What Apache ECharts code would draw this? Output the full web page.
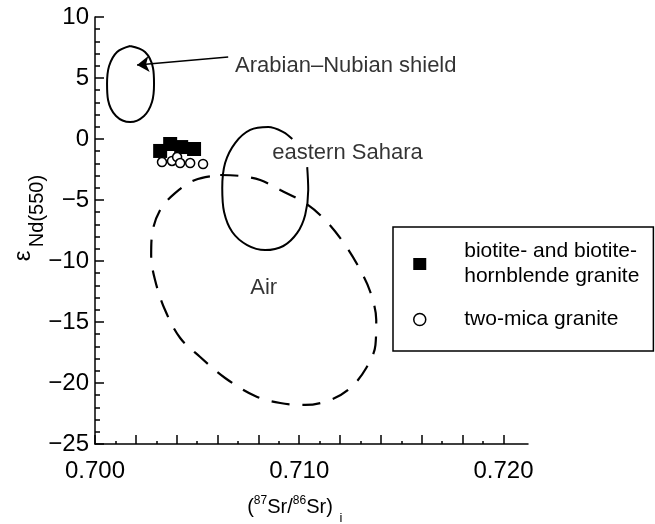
<!DOCTYPE html>
<html>
<head>
<meta charset="utf-8">
<script src="https://cdn.jsdelivr.net/npm/echarts@6/dist/echarts.min.js"></script>
<style>
html,body{margin:0;padding:0;background:#fff;}
#chart{width:655px;height:524px;}
</style>
</head>
<body>
<div id="chart"></div>
<script>
// ---- data ----
const seriesNames = ['biotite- and biotite-\nhornblende granite', 'two-mica granite'];
// filled squares: biotite- and biotite-hornblende granite
const squareX = [0.70319, 0.70368, 0.70422, 0.70485];
const squareY = [-0.98, -0.41, -0.66, -0.82];
// open circles: two-mica granite
const circleX = [0.70328, 0.70377, 0.70402, 0.70417, 0.70466, 0.70529];
const circleY = [-1.89, -1.80, -1.48, -1.97, -1.97, -2.05];

// field outlines (traced)
const arabianX = [0.70172, 0.70245, 0.70284, 0.70289, 0.70279, 0.70240, 0.70172, 0.70103, 0.70064, 0.70059, 0.70069, 0.70108, 0.70172];
const arabianY = [7.62, 7.13, 5.82, 4.51, 3.03, 1.89, 1.39, 1.89, 3.20, 4.51, 5.98, 7.13, 7.62];
const saharaX = [0.71039, 0.71044, 0.71029, 0.70990, 0.70922, 0.70833, 0.70745, 0.70672, 0.70632, 0.70623, 0.70637, 0.70686, 0.70760, 0.70848, 0.70922, 0.70966];
const saharaY = [-2.30, -4.18, -6.23, -7.70, -8.77, -9.10, -8.69, -7.62, -5.98, -4.02, -1.97, -0.33, 0.74, 0.98, 0.57, 0.00];
const airX = [0.70613, 0.70711, 0.70809, 0.70907, 0.71029, 0.71127, 0.71225, 0.71299, 0.71348, 0.71377, 0.71373, 0.71328, 0.71250, 0.71152, 0.71029, 0.70907, 0.70784, 0.70637, 0.70515, 0.70417, 0.70343, 0.70294, 0.70275, 0.70279, 0.70319, 0.70392, 0.70490, 0.70613];
const airY = [-2.95, -3.03, -3.36, -4.18, -5.25, -6.64, -8.69, -10.74, -12.54, -14.84, -16.89, -18.77, -20.41, -21.39, -21.80, -21.64, -21.07, -19.59, -17.87, -16.31, -14.02, -11.56, -9.51, -7.87, -5.82, -4.43, -3.36, -2.95];

// arrow from label to Arabian–Nubian field
const arrowFrom = [0.70652, 6.72];
const arrowTo = [0.70206, 6.07];

// field labels
const fieldNames = ['Arabian–Nubian shield', 'eastern Sahara', 'Air'];
const fieldX = [0.70686, 0.70868, 0.70760];
const fieldY = [5.98, -1.15, -12.2];

// axes
const xMin = 0.700, xMax = 0.7212;
const yMin = -25, yMax = 10, yStep = 5;
const xMajorTicks = [0.700, 0.702, 0.704, 0.706, 0.708, 0.710, 0.712, 0.714, 0.716, 0.718, 0.720];
const xMinorTicks = [0.701, 0.703, 0.705, 0.707, 0.709, 0.711, 0.713, 0.715, 0.717, 0.719];
const xTickLabels = [0.700, 0.710, 0.720];

// ---- chart ----
const FONT = '"Liberation Sans", Arial, Helvetica, sans-serif';
const zip = (xs, ys) => xs.map((x, i) => [x, ys[i]]);
const chart = echarts.init(document.getElementById('chart'), null, {renderer: 'canvas'});

const outline = (name, xs, ys, dashed, extra) => Object.assign({
  name: name,
  type: 'line',
  data: zip(xs, ys),
  smooth: 0.35,
  showSymbol: false,
  symbol: 'none',
  silent: true,
  z: 2,
  lineStyle: {color: '#000', width: 2, type: dashed ? [18, 13] : 'solid'}
}, extra || {});

chart.setOption({
  animation: false,
  backgroundColor: '#fff',
  textStyle: {fontFamily: FONT},
  grid: {left: 95, right: 127, top: 17, bottom: 80, containLabel: false},
  xAxis: [{
    type: 'value', min: xMin, max: xMax,
    axisLine: {show: true, onZero: false, lineStyle: {color: '#000', width: 1.5}},
    axisTick: {show: true, inside: true, length: 9, customValues: xMajorTicks, lineStyle: {color: '#000', width: 1.5}},
    axisLabel: {show: true, customValues: xTickLabels, margin: 15, color: '#000', fontSize: 24, fontFamily: FONT,
      formatter: v => v.toFixed(3)},
    splitLine: {show: false}
  }, {
    type: 'value', min: xMin, max: xMax, position: 'bottom',
    axisLine: {show: false, onZero: false},
    axisTick: {show: true, inside: true, length: 3, customValues: xMinorTicks, lineStyle: {color: '#000', width: 1.5}},
    axisLabel: {show: false},
    splitLine: {show: false}
  }],
  yAxis: {
    type: 'value', min: yMin, max: yMax, interval: yStep,
    axisLine: {show: true, onZero: false, lineStyle: {color: '#000', width: 1.5}},
    axisTick: {show: true, inside: true, length: 9, lineStyle: {color: '#000', width: 1.5}},
    minorTick: {show: true, splitNumber: 5, length: 5, lineStyle: {color: '#000', width: 1.5}},
    axisLabel: {color: '#000', fontSize: 24, margin: 6, fontFamily: FONT,
      formatter: v => String(v).replace('-', '\u2212')},
    splitLine: {show: false},
    minorSplitLine: {show: false}
  },
  legend: {
    orient: 'vertical',
    left: 393, top: 227,
    padding: [12, 14, 19, 20],
    borderColor: '#000', borderWidth: 1.5,
    backgroundColor: '#fff',
    itemWidth: 13, itemHeight: 12, itemGap: 18,
    selectedMode: false,
    textStyle: {color: '#000', fontSize: 21, lineHeight: 25, fontFamily: FONT, padding: [0, 0, 0, 33]},
    data: [
      {name: seriesNames[0], icon: 'rect', itemStyle: {color: '#000', borderWidth: 0}},
      {name: seriesNames[1], icon: 'circle', itemStyle: {color: '#fff', borderColor: '#000', borderWidth: 1.5}}
    ]
  },
  graphic: [
    {type: 'text', x: 23, y: 256, rotation: Math.PI / 2,
      style: {text: '\u03b5', fontSize: 24, fontFamily: FONT, fill: '#000', align: 'center', verticalAlign: 'middle'}},
    {type: 'text', x: 37, y: 211, rotation: Math.PI / 2,
      style: {text: 'Nd(550)', fontSize: 20, fontFamily: FONT, fill: '#000', align: 'center', verticalAlign: 'middle'}},
    {type: 'text', x: 290, y: 507,
      style: {text: '({s|87}Sr/{s|86}Sr)', fontSize: 20, lineHeight: 24, fontFamily: FONT, fill: '#000', align: 'center', verticalAlign: 'middle',
        rich: {s: {fontSize: 12, fontFamily: FONT, fill: '#000', verticalAlign: 'top'}}}},
    {type: 'text', x: 341, y: 518,
      style: {text: 'i', fontSize: 13, fontFamily: FONT, fill: '#000', align: 'center', verticalAlign: 'middle'}}
  ],
  series: [
    outline('Arabian–Nubian field', arabianX, arabianY, false, {
      markLine: {
        silent: true, animation: false,
        symbol: ['none', 'arrow'], symbolSize: 12,
        label: {show: false},
        itemStyle: {color: '#000'},
        lineStyle: {color: '#000', width: 1.5, type: 'solid'},
        emphasis: {disabled: true},
        data: [[{coord: arrowFrom}, {coord: arrowTo}]]
      }
    }),
    outline('eastern Sahara field', saharaX, saharaY, false),
    outline('Air field', airX, airY, true, {lineStyle: {color: '#000', width: 2.2, type: [18, 13]}}),
    {
      name: 'labels', type: 'scatter', silent: true, symbolSize: 0,
      data: fieldNames.map((n, i) => ({name: n, value: [fieldX[i], fieldY[i]]})),
      label: {show: true, position: 'right', distance: 0, formatter: '{b}', color: '#000', fontSize: 22, fontFamily: FONT},
      z: 3
    },
    {
      name: seriesNames[0], type: 'scatter', data: zip(squareX, squareY),
      symbol: 'rect', symbolSize: 14, itemStyle: {color: '#000', opacity: 1}, z: 4
    },
    {
      name: seriesNames[1], type: 'scatter', data: zip(circleX, circleY),
      symbol: 'circle', symbolSize: 9, itemStyle: {color: '#fff', borderColor: '#000', borderWidth: 1.5, opacity: 1}, z: 5
    }
  ]
});
</script>
</body>
</html>
